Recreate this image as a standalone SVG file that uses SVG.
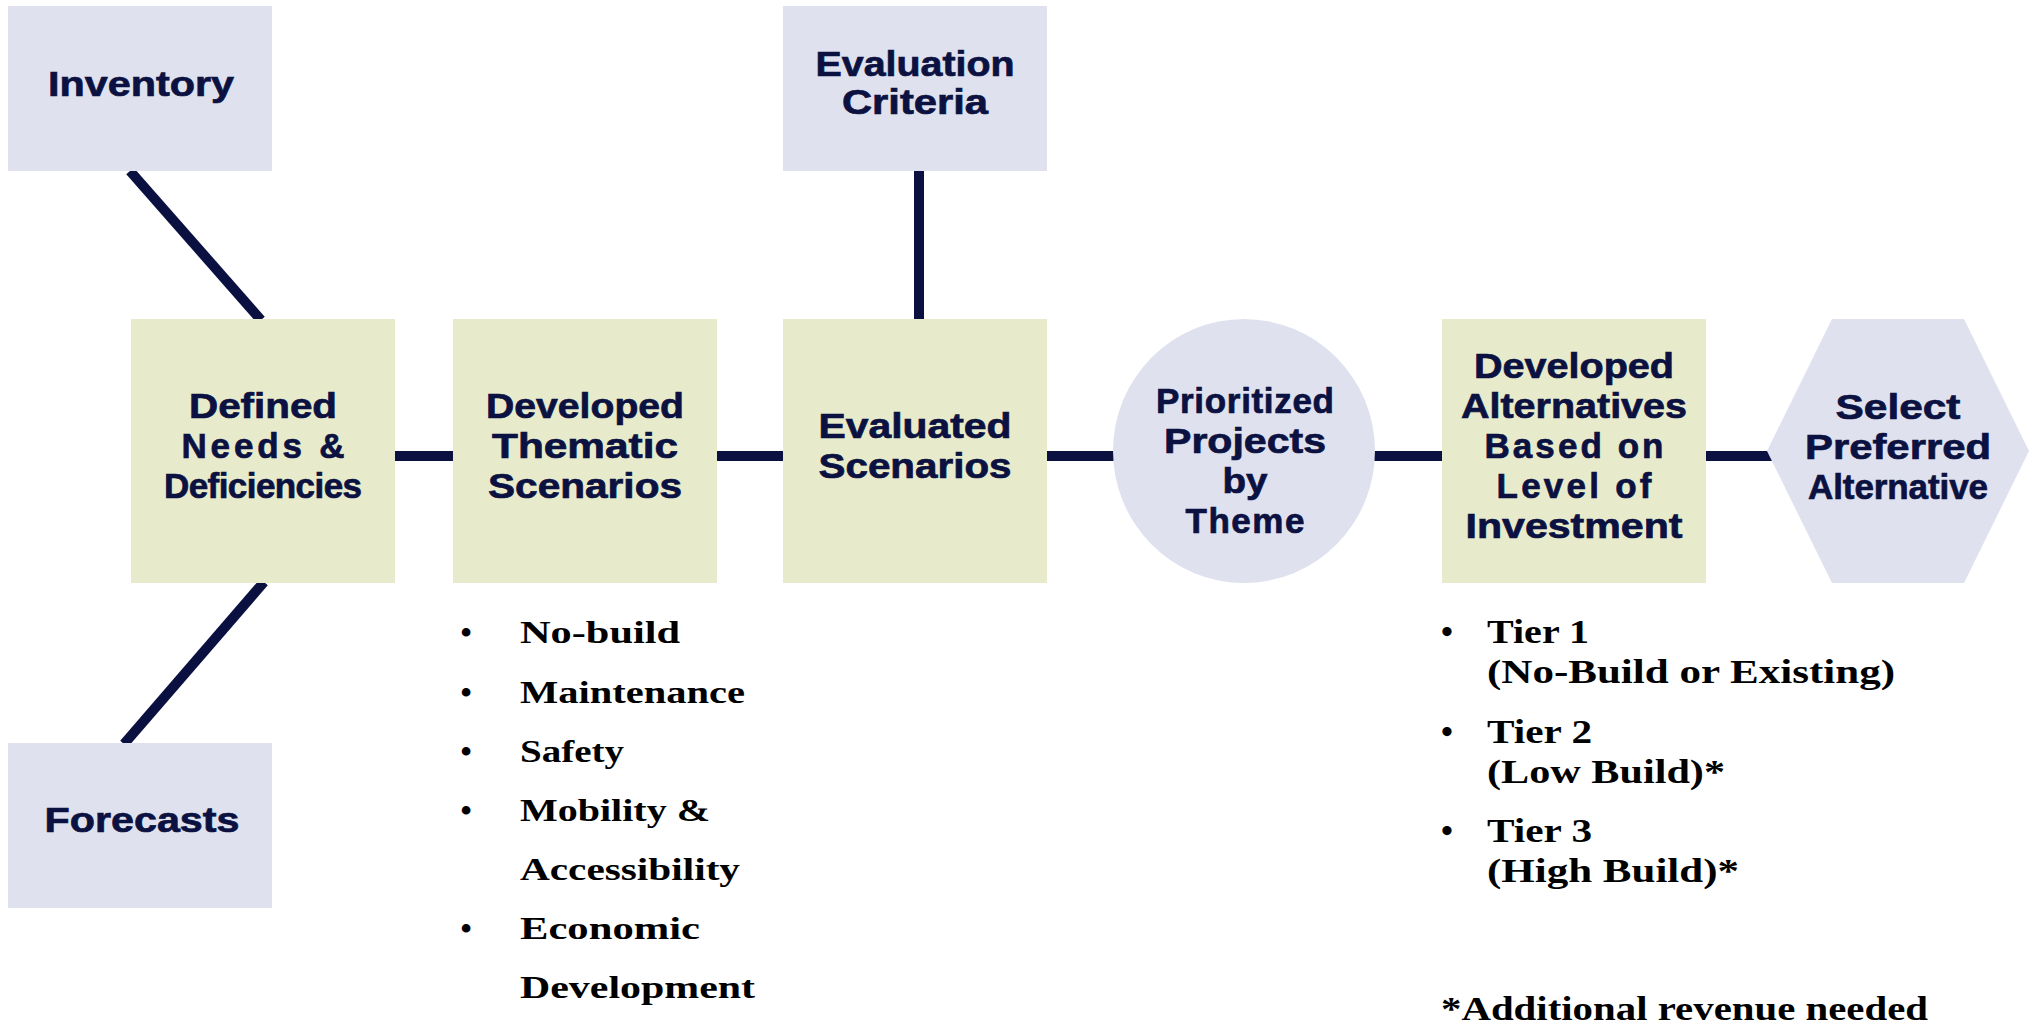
<svg xmlns="http://www.w3.org/2000/svg" width="2030" height="1024" viewBox="0 0 2030 1024">
  <style>
    .grey { fill: #DFE1EE; }
    .green { fill: #E8EBCB; }
    .lbl { font-family: "Liberation Sans", Arial, sans-serif; font-weight: bold; font-size: 35px; fill: #0B1140; stroke: #0B1140; stroke-width: 0.7; text-anchor: middle; }
    .link { stroke: #0A1040; stroke-width: 10; fill: none; }
    .li { font-family: "Liberation Serif", "Times New Roman", serif; font-weight: bold; font-size: 32px; fill: #000; }
    .li2 { font-family: "Liberation Serif", "Times New Roman", serif; font-weight: bold; font-size: 34px; fill: #000; }
  </style>
  <rect width="2030" height="1024" fill="#FFFFFF"/>

  <!-- connectors -->
  <g id="connectors">
    <line class="link" x1="130" y1="171" x2="261" y2="320"/>
    <line class="link" x1="264" y1="582" x2="124" y2="744"/>
    <line class="link" x1="919" y1="171" x2="919" y2="320"/>
    <line class="link" x1="394" y1="456" x2="454" y2="456"/>
    <line class="link" x1="716" y1="456" x2="784" y2="456"/>
    <line class="link" x1="1046" y1="456" x2="1115" y2="456"/>
    <line class="link" x1="1374" y1="456" x2="1443" y2="456"/>
    <line class="link" x1="1706" y1="456" x2="1772" y2="456"/>
  </g>

  <!-- inputs -->
  <g id="inventory">
    <rect class="grey" x="8" y="6" width="264" height="165"/>
    <text class="lbl" x="141" y="96" textLength="186" lengthAdjust="spacingAndGlyphs">Inventory</text>
  </g>
  <g id="evaluation-criteria">
    <rect class="grey" x="783" y="6" width="264" height="165"/>
    <text class="lbl" x="915" y="76" textLength="199" lengthAdjust="spacingAndGlyphs">Evaluation</text>
    <text class="lbl" x="915" y="114" textLength="146" lengthAdjust="spacingAndGlyphs">Criteria</text>
  </g>
  <g id="forecasts">
    <rect class="grey" x="8" y="743" width="264" height="165"/>
    <text class="lbl" x="142" y="832" textLength="195" lengthAdjust="spacingAndGlyphs">Forecasts</text>
  </g>

  <!-- main process -->
  <g id="defined-needs">
    <rect class="green" x="131" y="319" width="264" height="264"/>
    <text class="lbl" x="263" y="418" textLength="148" lengthAdjust="spacingAndGlyphs">Defined</text>
    <text class="lbl" x="263" y="458" textLength="163">Needs  &amp;</text>
    <text class="lbl" x="263" y="498" textLength="198">Deficiencies</text>
  </g>
  <g id="thematic-scenarios">
    <rect class="green" x="453" y="319" width="264" height="264"/>
    <text class="lbl" x="585" y="418" textLength="198" lengthAdjust="spacingAndGlyphs">Developed</text>
    <text class="lbl" x="585" y="458" textLength="186" lengthAdjust="spacingAndGlyphs">Thematic</text>
    <text class="lbl" x="585" y="498" textLength="194" lengthAdjust="spacingAndGlyphs">Scenarios</text>
  </g>
  <g id="evaluated-scenarios">
    <rect class="green" x="783" y="319" width="264" height="264"/>
    <text class="lbl" x="915" y="438" textLength="193" lengthAdjust="spacingAndGlyphs">Evaluated</text>
    <text class="lbl" x="915" y="478" textLength="193" lengthAdjust="spacingAndGlyphs">Scenarios</text>
  </g>
  <g id="prioritized-projects">
    <ellipse class="grey" cx="1244" cy="451" rx="131" ry="132"/>
    <text class="lbl" x="1245" y="413" textLength="178">Prioritized</text>
    <text class="lbl" x="1245" y="453" textLength="162" lengthAdjust="spacingAndGlyphs">Projects</text>
    <text class="lbl" x="1245" y="493" textLength="45" lengthAdjust="spacingAndGlyphs">by</text>
    <text class="lbl" x="1245" y="533" textLength="119">Theme</text>
  </g>
  <g id="developed-alternatives">
    <rect class="green" x="1442" y="319" width="264" height="264"/>
    <text class="lbl" x="1574" y="378" textLength="200" lengthAdjust="spacingAndGlyphs">Developed</text>
    <text class="lbl" x="1574" y="418" textLength="226" lengthAdjust="spacingAndGlyphs">Alternatives</text>
    <text class="lbl" x="1574" y="458" textLength="179">Based  on</text>
    <text class="lbl" x="1574" y="498" textLength="155">Level  of</text>
    <text class="lbl" x="1574" y="538" textLength="217" lengthAdjust="spacingAndGlyphs">Investment</text>
  </g>
  <g id="select-preferred">
    <polygon class="grey" points="1767,451 1832,319 1964,319 2029,451 1964,583 1832,583"/>
    <text class="lbl" x="1898" y="419" textLength="125" lengthAdjust="spacingAndGlyphs">Select</text>
    <text class="lbl" x="1898" y="459" textLength="186" lengthAdjust="spacingAndGlyphs">Preferred</text>
    <text class="lbl" x="1898" y="499" textLength="180">Alternative</text>
  </g>

  <!-- scenario themes -->
  <g id="theme-list" class="li">
    <text x="466" y="643" text-anchor="middle">•</text>
    <text x="520" y="643" textLength="160" lengthAdjust="spacingAndGlyphs">No-build</text>
    <text x="466" y="703" text-anchor="middle">•</text>
    <text x="520" y="703" textLength="225" lengthAdjust="spacingAndGlyphs">Maintenance</text>
    <text x="466" y="762" text-anchor="middle">•</text>
    <text x="520" y="762" textLength="104" lengthAdjust="spacingAndGlyphs">Safety</text>
    <text x="466" y="821" text-anchor="middle">•</text>
    <text x="520" y="821" textLength="190" lengthAdjust="spacingAndGlyphs">Mobility &amp;</text>
    <text x="520" y="880" textLength="220" lengthAdjust="spacingAndGlyphs">Accessibility</text>
    <text x="466" y="939" text-anchor="middle">•</text>
    <text x="520" y="939" textLength="180" lengthAdjust="spacingAndGlyphs">Economic</text>
    <text x="520" y="998" textLength="235" lengthAdjust="spacingAndGlyphs">Development</text>
  </g>

  <!-- investment tiers -->
  <g id="tier-list" class="li2">
    <text x="1447" y="643" text-anchor="middle">•</text>
    <text x="1487" y="643" textLength="102" lengthAdjust="spacingAndGlyphs">Tier 1</text>
    <text x="1487" y="683" textLength="408" lengthAdjust="spacingAndGlyphs">(No-Build or Existing)</text>
    <text x="1447" y="743" text-anchor="middle">•</text>
    <text x="1487" y="743" textLength="105" lengthAdjust="spacingAndGlyphs">Tier 2</text>
    <text x="1487" y="783" textLength="238" lengthAdjust="spacingAndGlyphs">(Low Build)*</text>
    <text x="1447" y="842" text-anchor="middle">•</text>
    <text x="1487" y="842" textLength="105" lengthAdjust="spacingAndGlyphs">Tier 3</text>
    <text x="1487" y="882" textLength="252" lengthAdjust="spacingAndGlyphs">(High Build)*</text>
    <text x="1441" y="1020" textLength="487" lengthAdjust="spacingAndGlyphs">*Additional revenue needed</text>
  </g>
</svg>
